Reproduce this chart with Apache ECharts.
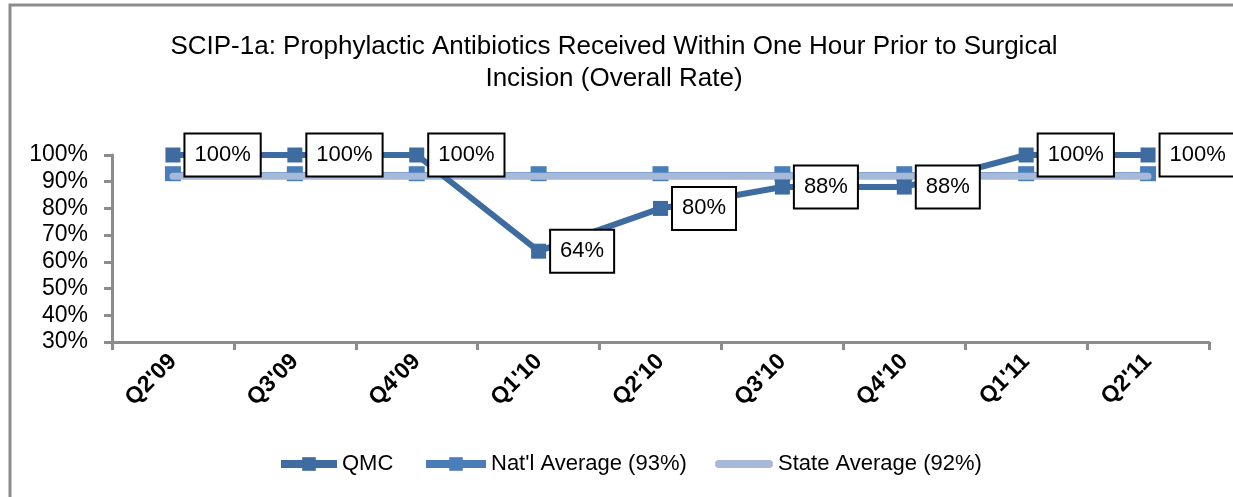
<!DOCTYPE html>
<html>
<head>
<meta charset="utf-8">
<script src="https://cdn.jsdelivr.net/npm/echarts@6/dist/echarts.min.js"></script>
<style>
html,body{margin:0;padding:0;background:#fff;}
#chart{width:1233px;height:497px;}
</style>
</head>
<body>
<div id="chart"></div>
<script>
const categories = ["Q2'09","Q3'09","Q4'09","Q1'10","Q2'10","Q3'10","Q4'10","Q1'11","Q2'11"];
const qmcValues = [100,100,100,64,80,88,88,100,100];
const natlValues = [93,93,93,93,93,93,93,93,93];
const stateValues = [92,92,92,92,92,92,92,92,92];
const seriesNames = ["QMC","Nat'l Average (93%)","State Average (92%)"];
const titleText = "SCIP-1a: Prophylactic Antibiotics Received Within One Hour Prior to Surgical\nIncision (Overall Rate)";

const sans = "'Liberation Sans Narrow','Arial Narrow','Liberation Sans',Arial,sans-serif";
const legendText = {fontFamily: sans, fontSize: 22, color: '#000'};
const chart = echarts.init(document.getElementById('chart'));
chart.setOption({
  animation: false,
  backgroundColor: '#fff',
  graphic: [{
    type: 'rect', shape: {x: 10, y: 5, width: 1240, height: 510},
    style: {fill: 'none', stroke: '#8c8c8c', lineWidth: 3}, silent: true
  }],
  title: {
    text: titleText, left: 609, top: 26, textAlign: 'center',
    textStyle: {fontFamily: sans, fontSize: 26, fontWeight: 'normal', color: '#000', lineHeight: 32}
  },
  legend: [
    {data: [{name: seriesNames[0], lineStyle: {width: 8}}], left: 277, top: 453, padding: 0,
     itemWidth: 56, itemHeight: 17, textStyle: legendText},
    {data: [{name: seriesNames[1], lineStyle: {width: 8}}], left: 422, top: 453, padding: 0,
     itemWidth: 60, itemHeight: 17, textStyle: legendText},
    {data: [{name: seriesNames[2], icon: 'path://M4,0 L54,0 A4,4 0 0 1 54,8 L4,8 A4,4 0 0 1 4,0 Z'}],
     left: 715, top: 453, padding: 0, itemWidth: 58, itemHeight: 17, textStyle: legendText}
  ],
  grid: {left: 112, right: 24, top: 155, bottom: 155},
  xAxis: {
    type: 'category', data: categories, boundaryGap: true,
    axisLine: {lineStyle: {color: '#8c8c8c', width: 3}},
    axisTick: {show: true, length: 8, lineStyle: {color: '#8c8c8c', width: 3}},
    axisLabel: {rotate: 45, margin: 16, fontFamily: "'Liberation Sans',Arial,sans-serif", fontWeight: 'bold', fontSize: 23, color: '#000'}
  },
  yAxis: {
    type: 'value', min: 30, max: 100, interval: 10,
    splitLine: {show: false},
    axisLine: {show: true, lineStyle: {color: '#8c8c8c', width: 3}},
    axisTick: {show: true, length: 8, lineStyle: {color: '#8c8c8c', width: 3}},
    axisLabel: {formatter: '{value}%', margin: 24, fontFamily: sans, fontSize: 23, color: '#000'}
  },
  series: [
    {
      name: seriesNames[1], type: 'line', data: natlValues, z: 2,
      symbol: 'rect', symbolSize: [16, 15],
      lineStyle: {color: '#4a7ebb', width: 3},
      itemStyle: {color: '#4a7ebb'}
    },
    {
      name: seriesNames[2], type: 'line', data: stateValues, z: 3,
      symbol: 'none',
      lineStyle: {color: '#a6b9d8', width: 7, cap: 'round'},
      itemStyle: {color: '#a6b9d8'}
    },
    {
      name: seriesNames[0], type: 'line', data: qmcValues, z: 4,
      symbol: 'rect', symbolSize: 15,
      lineStyle: {color: '#3e6ba0', width: 6},
      itemStyle: {color: '#3e6ba0'},
      label: {
        show: true, position: 'right', distance: 5, formatter: '{c}%',
        fontFamily: sans, fontSize: 22, color: '#000',
        backgroundColor: '#fff', borderColor: '#000', borderWidth: 2,
        padding: [11, 9, 8, 9]
      }
    }
  ]
});
</script>
</body>
</html>
